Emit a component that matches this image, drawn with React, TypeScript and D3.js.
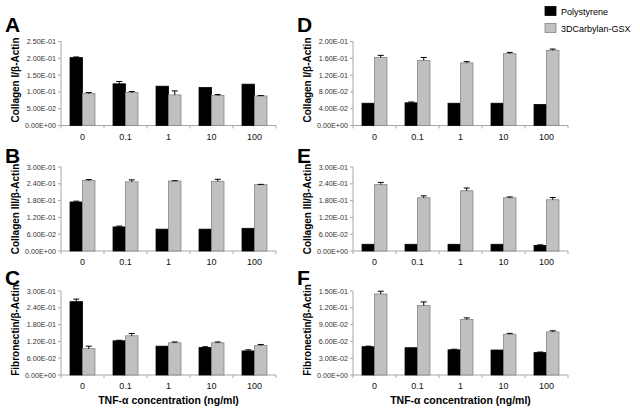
import React from "react";
import * as d3 from "d3";

const categories = ["0", "0.1", "1", "10", "100"];
const seriesNames = ["Polystyrene", "3DCarbylan-GSX"];

// Panel A: Collagen I (left top)
const aPoly = [0.202, 0.124, 0.117, 0.113, 0.123];
const aPolyErr = [0.002, 0.007, 0, 0, 0];
const aCarb = [0.095, 0.098, 0.091, 0.089, 0.088];
const aCarbErr = [0.003, 0.003, 0.012, 0.003, 0.001];
const aTicks = [0, 0.05, 0.1, 0.15, 0.2, 0.25];

// Panel B: Collagen III (left middle)
const bPoly = [0.175, 0.086, 0.078, 0.078, 0.081];
const bPolyErr = [0.003, 0.003, 0, 0, 0];
const bCarb = [0.252, 0.247, 0.25, 0.249, 0.237];
const bCarbErr = [0.003, 0.007, 0.001, 0.007, 0.001];
const bTicks = [0, 0.06, 0.12, 0.18, 0.24, 0.3];

// Panel C: Fibronectin (left bottom)
const cPoly = [0.262, 0.122, 0.103, 0.098, 0.086];
const cPolyErr = [0.009, 0.002, 0, 0.003, 0.004];
const cCarb = [0.094, 0.14, 0.115, 0.115, 0.105];
const cCarbErr = [0.009, 0.008, 0.003, 0.003, 0.004];
const cTicks = [0, 0.06, 0.12, 0.18, 0.24, 0.3];

// Panel D: Collagen I (right top)
const dPoly = [0.053, 0.054, 0.053, 0.053, 0.05];
const dPolyErr = [0, 0.002, 0, 0, 0];
const dCarb = [0.162, 0.155, 0.149, 0.171, 0.179];
const dCarbErr = [0.005, 0.007, 0.003, 0.003, 0.003];
const dTicks = [0, 0.04, 0.08, 0.12, 0.16, 0.2];

// Panel E: Collagen III (right middle)
const ePoly = [0.024, 0.024, 0.024, 0.024, 0.02];
const ePolyErr = [0, 0, 0, 0, 0.002];
const eCarb = [0.237, 0.19, 0.215, 0.19, 0.183];
const eCarbErr = [0.008, 0.007, 0.01, 0.003, 0.008];
const eTicks = [0, 0.06, 0.12, 0.18, 0.24, 0.3];

// Panel F: Fibronectin (right bottom)
const fPoly = [0.0505, 0.0487, 0.045, 0.0446, 0.04];
const fPolyErr = [0.001, 0, 0.001, 0, 0.001];
const fCarb = [0.1446, 0.124, 0.099, 0.0728, 0.077];
const fCarbErr = [0.005, 0.0065, 0.003, 0.0015, 0.002];
const fTicks = [0, 0.03, 0.06, 0.09, 0.12, 0.15];

const xTitle = "TNF-α concentration (ng/ml)";

const panels = [
  { letter: "A", title: "Collagen I/β-Actin", poly: aPoly, polyErr: aPolyErr, carb: aCarb, carbErr: aCarbErr, ticks: aTicks, col: 0, row: 0 },
  { letter: "B", title: "Collagen III/β-Actin", poly: bPoly, polyErr: bPolyErr, carb: bCarb, carbErr: bCarbErr, ticks: bTicks, col: 0, row: 1 },
  { letter: "C", title: "Fibronectin/β-Actin", poly: cPoly, polyErr: cPolyErr, carb: cCarb, carbErr: cCarbErr, ticks: cTicks, col: 0, row: 2 },
  { letter: "D", title: "Collagen I/β-Actin", poly: dPoly, polyErr: dPolyErr, carb: dCarb, carbErr: dCarbErr, ticks: dTicks, col: 1, row: 0 },
  { letter: "E", title: "Collagen III/β-Actin", poly: ePoly, polyErr: ePolyErr, carb: eCarb, carbErr: eCarbErr, ticks: eTicks, col: 1, row: 1 },
  { letter: "F", title: "Fibronectin/β-Actin", poly: fPoly, polyErr: fPolyErr, carb: fCarb, carbErr: fCarbErr, ticks: fTicks, col: 1, row: 2 },
];

// layout
const FONT = "'Liberation Sans', Arial, Helvetica, sans-serif";
const colX = [61, 353];
const colTitleX = [15, 307];
const colLetterX = [5, 297];
const plotW = 215;
const rowTop = [41.5, 167, 291];
const plotH = 84;
const rowTitleY = [80, 209, 330];
const rowLetterY = [32, 163, 285];
const AXIS = "#a8a8a8";
const GRAY = "#c0c0c0";
const GRAY_EDGE = "#858585";

function fmt(v: number): string {
  if (v === 0) return "0.00E+00";
  const e = Math.floor(Math.log10(v) + 1e-9);
  const m = v / Math.pow(10, e);
  return m.toFixed(2) + "E" + (e < 0 ? "-" : "+") + String(Math.abs(e)).padStart(2, "0");
}

function Panel({ p }: { p: any }) {
  const x0 = colX[p.col];
  const top = rowTop[p.row];
  const bottom = top + plotH;
  const x = d3.scaleBand<string>().domain(categories).range([x0, x0 + plotW]).paddingInner(0.42).paddingOuter(0.21);
  const xs = d3.scaleBand<string>().domain(seriesNames).range([0, x.bandwidth()]);
  const yMax = p.ticks[p.ticks.length - 1];
  const y = d3.scaleLinear().domain([0, yMax]).range([bottom, top]);
  const step = x.step();
  const bounds = d3.range(categories.length + 1).map((i) => x0 + i * step);
  const series = [
    { name: seriesNames[0], vals: p.poly, errs: p.polyErr, fill: "#000", stroke: "#000" },
    { name: seriesNames[1], vals: p.carb, errs: p.carbErr, fill: GRAY, stroke: GRAY_EDGE },
  ];
  return (
    <g>
      <text x={colLetterX[p.col]} y={rowLetterY[p.row]} fontFamily={FONT} fontWeight="bold" fontSize={21} fill="#000">
        {p.letter}
      </text>
      <text
        transform={`translate(${colTitleX[p.col]},${rowTitleY[p.row]}) rotate(-90)`}
        textAnchor="middle"
        dominantBaseline="central"
        fontFamily={FONT}
        fontWeight="bold"
        fontSize={10}
        fill="#000"
      >
        {p.title}
      </text>
      {/* y axis */}
      <line x1={x0} x2={x0} y1={top} y2={bottom} stroke={AXIS} strokeWidth={1} />
      {p.ticks.map((t: number, i: number) => (
        <g key={i}>
          <line x1={x0 - 3} x2={x0} y1={y(t)} y2={y(t)} stroke={AXIS} strokeWidth={1} />
          <text x={x0 - 5} y={y(t)} textAnchor="end" dominantBaseline="central" fontFamily={FONT} fontSize={7.2} fill="#333">
            {fmt(t)}
          </text>
        </g>
      ))}
      {/* x axis */}
      <line x1={x0} x2={x0 + plotW} y1={bottom} y2={bottom} stroke={AXIS} strokeWidth={1} />
      {bounds.map((bx, i) => (
        <line key={i} x1={bx} x2={bx} y1={bottom} y2={bottom + 3} stroke={AXIS} strokeWidth={1} />
      ))}
      {categories.map((c) => (
        <text key={c} x={(x(c) as number) + x.bandwidth() / 2} y={bottom + 11} textAnchor="middle" dominantBaseline="central" fontFamily={FONT} fontSize={9} fill="#111">
          {c}
        </text>
      ))}
      {/* bars */}
      {series.map((s) =>
        categories.map((c, i) => {
          const bx = (x(c) as number) + (xs(s.name) as number);
          const bw = xs.bandwidth();
          const yv = y(s.vals[i]);
          const ye = y(s.vals[i] + s.errs[i]);
          const cx = bx + bw / 2;
          return (
            <g key={s.name + c}>
              <rect x={bx} y={yv} width={bw} height={bottom - yv} fill={s.fill} stroke={s.stroke} strokeWidth={0.8} />
              {s.errs[i] > 0 && (
                <g stroke="#000" strokeWidth={1}>
                  <line x1={cx} x2={cx} y1={yv} y2={ye} />
                  <line x1={cx - 3} x2={cx + 3} y1={ye} y2={ye} />
                </g>
              )}
            </g>
          );
        })
      )}
    </g>
  );
}

export default function App() {
  return (
    <svg width={640} height={416} style={{ position: "absolute", left: 0, top: 0, background: "#fff" }}>
      <rect x={0} y={0} width={640} height={416} fill="#fff" />
      {panels.map((p) => (
        <Panel key={p.letter} p={p} />
      ))}
      {/* x-axis titles */}
      {[0, 1].map((c) => (
        <text key={c} x={colX[c] + plotW / 2} y={404} textAnchor="middle" fontFamily={FONT} fontWeight="bold" fontSize={10.5} fill="#000">
          {xTitle}
        </text>
      ))}
      {/* legend */}
      {seriesNames.map((n, i) => (
        <g key={n}>
          <rect x={545} y={6.5 + i * 17} width={11} height={9} fill={i === 0 ? "#000" : GRAY} stroke={i === 0 ? "#000" : GRAY_EDGE} strokeWidth={0.8} />
          <text x={561} y={14.5 + i * 17} fontFamily={FONT} fontSize={9} fill="#000">
            {n}
          </text>
        </g>
      ))}
    </svg>
  );
}
